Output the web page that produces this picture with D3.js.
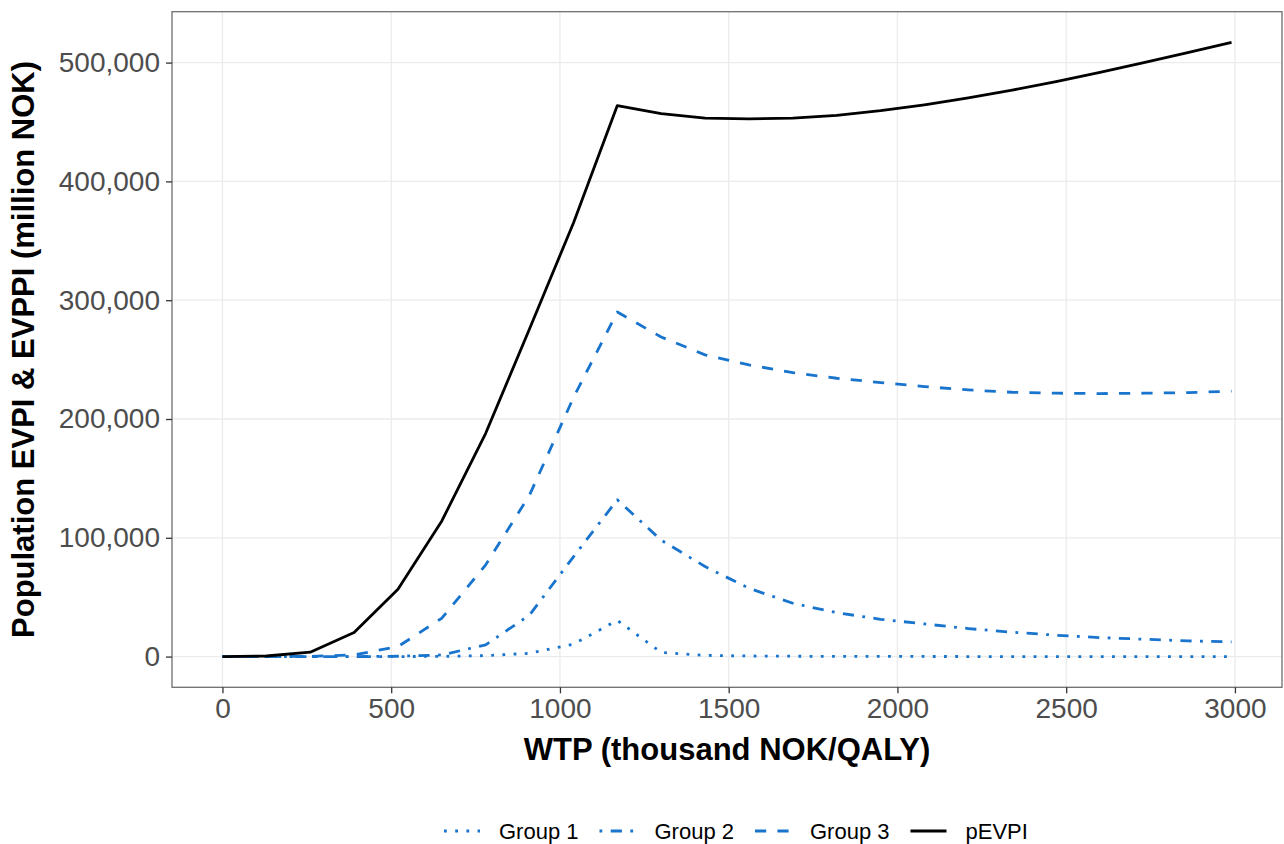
<!DOCTYPE html>
<html>
<head>
<meta charset="utf-8">
<script src="https://cdn.jsdelivr.net/npm/d3@7"></script>
<style>
    body { margin: 0; background: #fff; }
    text { font-family: "Liberation Sans", Arial, Helvetica, sans-serif; }
</style>
</head>
<body>
<svg id="evpi" width="1284" height="844"></svg>
<script>
// willingness to pay, thousand NOK per QALY
var wtp = [0, 130, 260, 390, 520, 650, 780, 910, 1040, 1170, 1300, 1430,
    1560, 1690, 1820, 1950, 2080, 2210, 2340, 2470, 2600, 2730, 2860, 2990];

// population values, million NOK
var group1 = [0, 0, 0, 0, 0, 200, 800, 2800, 10500, 30500, 3500, 1000,
    500, 300, 200, 100, 100, 50, 50, 0, 0, 0, 0, 0];
var group2 = [0, 0, 0, 0, 300, 1400, 9900, 35000, 84000, 132000, 98000, 75800,
    57500, 44900, 37000, 31400, 27500, 23600, 20500, 18000, 16000, 14600, 13200, 12400];
var group3 = [0, 0, 200, 1400, 8400, 32300, 77200, 136000, 218000, 290000, 269000, 254000,
    245500, 239000, 234300, 230700, 227300, 224500, 222500, 221700, 221400, 221700, 222200, 223400];
var pevpi = [0, 500, 3700, 20200, 56700, 114200, 188000, 276000, 365000, 463800, 457000, 453200,
    452600, 453300, 455500, 459500, 464500, 470300, 476800, 484000, 491800, 500000, 508400, 517000];

var seriesNames = ['Group 1', 'Group 2', 'Group 3', 'pEVPI'];
var xTicks = [0, 500, 1000, 1500, 2000, 2500, 3000];
var yTicks = [0, 100000, 200000, 300000, 400000, 500000];

var lw = 2.8;
var blue = '#1874CD';
var styles = [
    { color: blue, dash: [lw, 3 * lw].join(',') },                      // dotted
    { color: blue, dash: [lw, 3 * lw, 4 * lw, 3 * lw].join(',') },      // dotdash
    { color: blue, dash: [4 * lw, 4 * lw].join(',') },                  // dashed
    { color: '#000', dash: null }                                       // solid
];

var svg = d3.select('#evpi');
var panel = { left: 172, right: 1282, top: 11.7, bottom: 687.3 };

// 5% padding on both sides, like ggplot's default expansion
function expand(ext) {
    var pad = (ext[1] - ext[0]) * 0.05;
    return [ext[0] - pad, ext[1] + pad];
}

var allY = group1.concat(group2, group3, pevpi);
var xScale = d3.scaleLinear()
    .domain(expand(d3.extent(wtp)))
    .range([panel.left, panel.right]);
var yScale = d3.scaleLinear()
    .domain(expand(d3.extent(allY)))
    .range([panel.bottom, panel.top]);

svg.append('rect')
    .attr('width', 1284).attr('height', 844).attr('fill', '#fff');

// grid
var grid = svg.append('g');
grid.selectAll('.gx').data(xTicks).enter().append('line')
    .attr('x1', d => xScale(d)).attr('x2', d => xScale(d))
    .attr('y1', panel.top).attr('y2', panel.bottom)
    .attr('stroke', '#EBEBEB').attr('stroke-width', 1.3);
grid.selectAll('.gy').data(yTicks).enter().append('line')
    .attr('x1', panel.left).attr('x2', panel.right)
    .attr('y1', d => yScale(d)).attr('y2', d => yScale(d))
    .attr('stroke', '#EBEBEB').attr('stroke-width', 1.3);

// lines
var series = [group1, group2, group3, pevpi];
var line = d3.line()
    .x(function (d, i) { return xScale(wtp[i]); })
    .y(function (d) { return yScale(d); });

series.forEach(function (vals, k) {
    svg.append('path')
        .datum(vals)
        .attr('fill', 'none')
        .attr('stroke', styles[k].color)
        .attr('stroke-width', lw)
        .attr('stroke-linecap', 'butt')
        .attr('stroke-linejoin', 'round')
        .attr('stroke-dasharray', styles[k].dash)
        .attr('d', line);
});

// panel border
svg.append('rect')
    .attr('x', panel.left).attr('y', panel.top)
    .attr('width', panel.right - panel.left)
    .attr('height', panel.bottom - panel.top)
    .attr('fill', 'none')
    .attr('stroke', '#6e6e6e')
    .attr('stroke-width', 1.3);

// axes
var xAxis = svg.append('g')
    .attr('transform', `translate(0,${panel.bottom})`)
    .call(d3.axisBottom(xScale).tickValues(xTicks).tickFormat(d3.format('d'))
        .tickSizeInner(6).tickSizeOuter(0).tickPadding(5));
var yAxis = svg.append('g')
    .attr('transform', `translate(${panel.left},0)`)
    .call(d3.axisLeft(yScale).tickValues(yTicks).tickFormat(d3.format(','))
        .tickSizeInner(6).tickSizeOuter(0).tickPadding(6));

[xAxis, yAxis].forEach(function (ax) {
    ax.select('.domain').remove();
    ax.selectAll('.tick line').attr('stroke', '#333').attr('stroke-width', 1.3);
    ax.selectAll('.tick text')
        .attr('fill', '#4D4D4D')
        .style('font-size', '28px')
        .style('font-family', '"Liberation Sans", Arial, sans-serif');
});

// axis titles
svg.append('text')
    .attr('x', (panel.left + panel.right) / 2)
    .attr('y', 760)
    .attr('text-anchor', 'middle')
    .style('font-size', '31px')
    .style('font-weight', 'bold')
    .text('WTP (thousand NOK/QALY)');

svg.append('text')
    .attr('transform', `translate(34,${(panel.top + panel.bottom) / 2}) rotate(-90)`)
    .attr('text-anchor', 'middle')
    .style('font-size', '31px')
    .style('font-weight', 'bold')
    .text('Population EVPI & EVPPI (million NOK)');

// legend
var legend = svg.append('g')
    .attr('transform', 'translate(444,831)');
var keyW = 36, xpos = 0;
seriesNames.forEach(function (name, k) {
    var item = legend.append('g').attr('transform', `translate(${xpos},0)`);
    item.append('line')
        .attr('x1', 0).attr('x2', keyW)
        .attr('stroke', styles[k].color)
        .attr('stroke-width', lw)
        .attr('stroke-dasharray', styles[k].dash);
    var t = item.append('text')
        .attr('x', 55)
        .attr('dy', '0.35em')
        .style('font-size', '22px')
        .text(name);
    xpos += 55 + t.node().getComputedTextLength() + 21;
});
</script>
</body>
</html>
